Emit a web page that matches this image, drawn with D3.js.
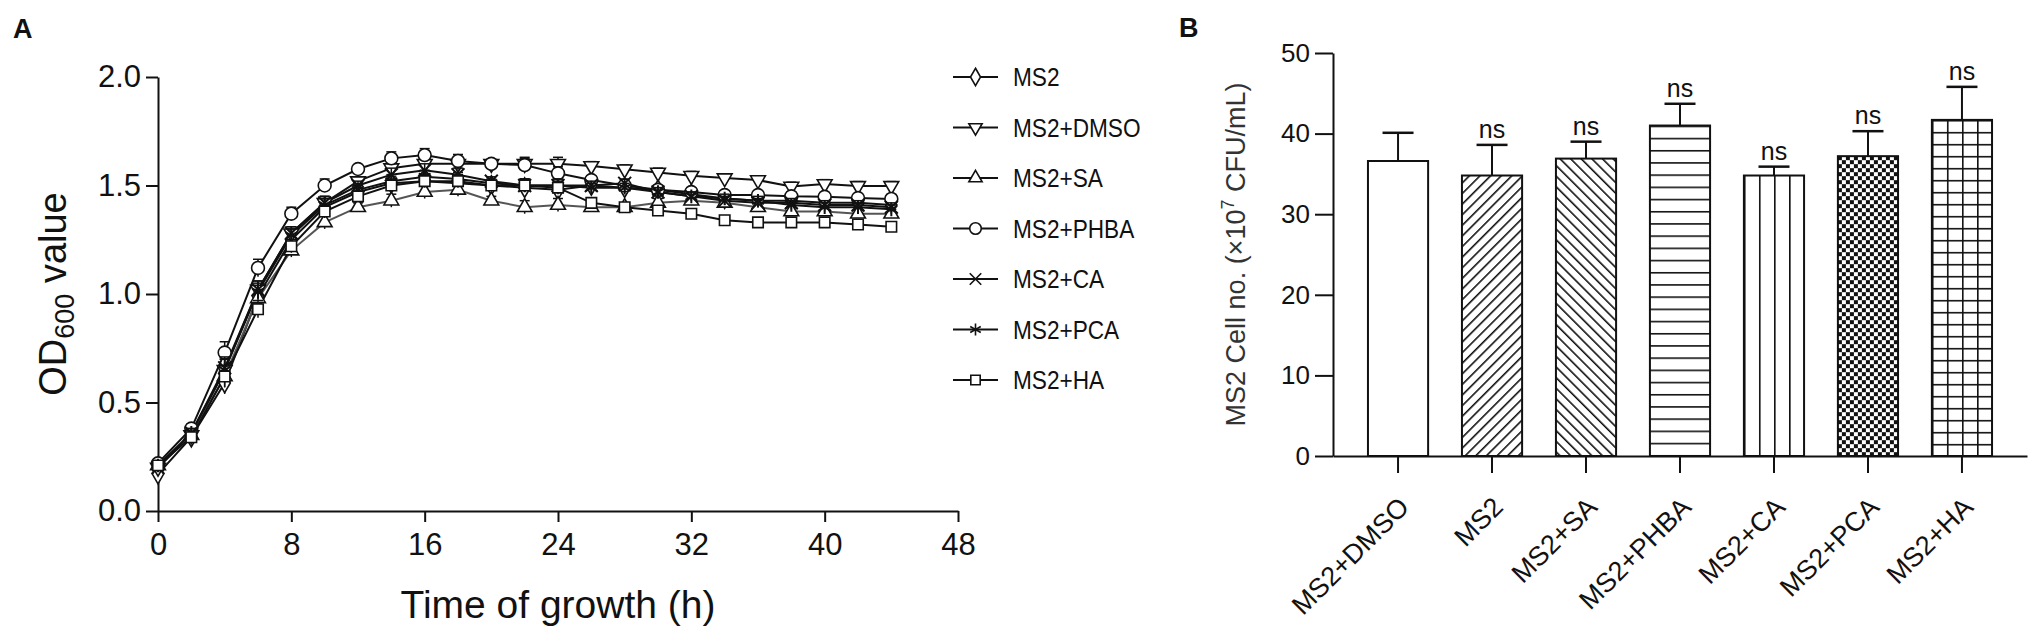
<!DOCTYPE html>
<html>
<head>
<meta charset="utf-8">
<script src="https://cdn.jsdelivr.net/npm/d3@7"></script>
<style>
  body { margin: 0; background: #fff; }
  svg text { font-family: "Liberation Sans", Arial, sans-serif; fill: #111; }
  .domain, .tick line { stroke: #111; stroke-width: 2; }
</style>
</head>
<body>
<div id="container"></div>
<script>
// panel A: growth curves
const hours = [0, 2, 4, 6, 8, 10, 12, 14, 16, 18, 20, 22, 24, 26, 28, 30, 32, 34, 36, 38, 40, 42, 44]
const seriesNames = ['MS2', 'MS2+DMSO', 'MS2+SA', 'MS2+PHBA', 'MS2+CA', 'MS2+PCA', 'MS2+HA']
const odMS2 = [0.17, 0.34, 0.59, 0.99, 1.25, 1.40, 1.47, 1.51, 1.52, 1.51, 1.50, 1.49, 1.48, 1.50, 1.49, 1.48, 1.46, 1.44, 1.43, 1.43, 1.42, 1.42, 1.41]
const odDMSO = [0.20, 0.35, 0.65, 1.02, 1.28, 1.42, 1.52, 1.58, 1.60, 1.60, 1.60, 1.60, 1.60, 1.59, 1.575, 1.56, 1.545, 1.534, 1.525, 1.495, 1.507, 1.498, 1.498]
const odSA = [0.21, 0.35, 0.62, 0.98, 1.20, 1.33, 1.40, 1.43, 1.47, 1.48, 1.43, 1.40, 1.41, 1.40, 1.40, 1.42, 1.43, 1.42, 1.40, 1.38, 1.38, 1.37, 1.37]
const odPHBA = [0.22, 0.38, 0.73, 1.12, 1.37, 1.50, 1.576, 1.625, 1.64, 1.613, 1.60, 1.594, 1.556, 1.525, 1.50, 1.48, 1.47, 1.456, 1.456, 1.45, 1.448, 1.442, 1.438]
const odCA = [0.20, 0.36, 0.66, 1.02, 1.28, 1.42, 1.50, 1.55, 1.57, 1.55, 1.52, 1.50, 1.50, 1.50, 1.51, 1.47, 1.45, 1.43, 1.42, 1.42, 1.41, 1.41, 1.40]
const odPCA = [0.21, 0.36, 0.65, 1.01, 1.27, 1.41, 1.48, 1.52, 1.54, 1.53, 1.51, 1.50, 1.50, 1.49, 1.49, 1.47, 1.45, 1.44, 1.43, 1.41, 1.40, 1.40, 1.39]
const odHA = [0.21, 0.34, 0.62, 0.93, 1.22, 1.38, 1.45, 1.50, 1.52, 1.52, 1.50, 1.50, 1.49, 1.42, 1.40, 1.385, 1.37, 1.34, 1.33, 1.33, 1.33, 1.32, 1.31]
const odError = [0.02, 0.02, 0.05, 0.04, 0.03, 0.03, 0.02, 0.03, 0.03, 0.03, 0.02, 0.03, 0.03, 0.02, 0.02, 0.02, 0.02, 0.02, 0.02, 0.02, 0.02, 0.02, 0.02]
const xTicksA = [0, 8, 16, 24, 32, 40, 48]
const yTicksA = [0, 0.5, 1.0, 1.5, 2.0]

// panel B: cell numbers
const groupsB = ['MS2+DMSO', 'MS2', 'MS2+SA', 'MS2+PHBA', 'MS2+CA', 'MS2+PCA', 'MS2+HA']
const cellCounts = [36.6, 34.8, 36.9, 41.0, 34.8, 37.2, 41.7]
const cellErrors = [3.5, 3.8, 2.1, 2.7, 1.1, 3.1, 4.1]
const significance = ['', 'ns', 'ns', 'ns', 'ns', 'ns', 'ns']
const yTicksB = [0, 10, 20, 30, 40, 50]

const w = 2033
const h = 637

const series = [odMS2, odDMSO, odSA, odPHBA, odCA, odPCA, odHA]
  .map((vals, i) => ({ name: seriesNames[i], values: vals.map((v, j) => ({ t: hours[j], v: v, e: odError[j] })) }))

const svg = d3.select('#container')
  .append('svg')
  .attr('width', w)
  .attr('height', h)

const defs = svg.append('defs')

// ---------- panel A ----------
const xA = d3.scaleLinear([0, 48], [158, 958])
const yA = d3.scaleLinear([0, 2], [511, 77])

svg.append('text').text('A')
  .attr('x', 13).attr('y', 38)
  .attr('font-size', 27).attr('font-weight', 'bold')

svg.append('g')
  .attr('transform', `translate(0,${yA(0)})`)
  .call(d3.axisBottom(xA).tickValues(xTicksA).tickFormat(d3.format('d')).tickSize(11).tickSizeOuter(0).tickPadding(11))
  .call(g => g.selectAll('text').attr('font-size', 31))

svg.append('g')
  .attr('transform', `translate(${xA(0)},0)`)
  .call(d3.axisLeft(yA).tickValues(yTicksA).tickFormat(d3.format('.1f')).tickSize(12).tickSizeOuter(0).tickPadding(5))
  .call(g => g.selectAll('text').attr('font-size', 31))

svg.append('text')
  .attr('x', xA(24)).attr('y', 618)
  .attr('text-anchor', 'middle')
  .attr('font-size', 39)
  .text('Time of growth (h)')

const yTitleA = svg.append('text')
  .attr('transform', `translate(66,${yA(1)}) rotate(-90)`)
  .attr('text-anchor', 'middle')
  .attr('font-size', 38)
yTitleA.append('tspan').text('OD')
yTitleA.append('tspan').text('600').attr('font-size', 27).attr('dy', 8)
yTitleA.append('tspan').text(' value').attr('dy', -8)

const markerType = {
  'MS2': d3.symbolDiamond,
  'MS2+DMSO': d3.symbolTriangle,
  'MS2+SA': d3.symbolTriangle,
  'MS2+PHBA': d3.symbolCircle,
  'MS2+CA': d3.symbolX,
  'MS2+PCA': d3.symbolAsterisk,
  'MS2+HA': d3.symbolSquare
}
const markerSize = { 'MS2': 110, 'MS2+DMSO': 95, 'MS2+SA': 95, 'MS2+PHBA': 130, 'MS2+CA': 110, 'MS2+PCA': 130, 'MS2+HA': 110 }
const markerRotate = name => name === 'MS2+DMSO' ? 180 : 0
const isOpen = name => name !== 'MS2+CA' && name !== 'MS2+PCA'

const line = d3.line().x(d => xA(d.t)).y(d => yA(d.v))

const plotA = svg.append('g')

plotA.selectAll('path.series')
  .data(series)
  .enter()
  .append('path')
  .attr('class', 'series')
  .attr('d', d => line(d.values))
  .attr('fill', 'none')
  .attr('stroke', (d, i) => i === 2 ? '#555' : '#111')
  .attr('stroke-width', 2)

series.forEach(s => {
  const g = plotA.append('g')
  g.selectAll('line.err')
    .data(s.values)
    .enter()
    .append('line')
    .attr('x1', d => xA(d.t)).attr('x2', d => xA(d.t))
    .attr('y1', d => yA(d.v - d.e)).attr('y2', d => yA(d.v + d.e))
    .attr('stroke', '#111').attr('stroke-width', 1.5)
  g.selectAll('line.cap')
    .data(s.values)
    .enter()
    .append('line')
    .attr('x1', d => xA(d.t) - 5).attr('x2', d => xA(d.t) + 5)
    .attr('y1', d => yA(d.v + d.e)).attr('y2', d => yA(d.v + d.e))
    .attr('stroke', '#111').attr('stroke-width', 1.5)
  g.selectAll('path.marker')
    .data(s.values)
    .enter()
    .append('path')
    .attr('d', d3.symbol(markerType[s.name], markerSize[s.name]))
    .attr('transform', d => `translate(${xA(d.t)},${yA(d.v)}) rotate(${markerRotate(s.name)})`)
    .attr('fill', isOpen(s.name) ? '#fff' : 'none')
    .attr('stroke', '#111')
    .attr('stroke-width', isOpen(s.name) ? 1.6 : 2)
})

// legend
const legend = svg.append('g').attr('transform', 'translate(953,77)')
seriesNames.forEach((name, i) => {
  const row = legend.append('g').attr('transform', `translate(0,${i * 50.5})`)
  row.append('line').attr('x1', 0).attr('x2', 45).attr('stroke', '#111').attr('stroke-width', 2)
  row.append('path')
    .attr('d', d3.symbol(markerType[name], markerSize[name] * 0.8))
    .attr('transform', `translate(22.5,0) rotate(${markerRotate(name)})`)
    .attr('fill', isOpen(name) ? '#fff' : 'none')
    .attr('stroke', '#111')
    .attr('stroke-width', 1.6)
  row.append('text').text(name)
    .attr('transform', 'translate(60,0) scale(0.87,1)')
    .attr('dy', '0.36em')
    .attr('font-size', 26)
})

// ---------- panel B ----------
const xB = d3.scaleBand(groupsB, [1333, 2027]).paddingInner(0.36).paddingOuter(0.372)
const yB = d3.scaleLinear([0, 50], [456, 53])

svg.append('text').text('B')
  .attr('x', 1179).attr('y', 37)
  .attr('font-size', 27).attr('font-weight', 'bold')

const pat = (id, x, y, pw, ph, rot, draw) => {
  const p = defs.append('pattern')
    .attr('id', id)
    .attr('patternUnits', 'userSpaceOnUse')
    .attr('x', x).attr('y', y)
    .attr('width', pw).attr('height', ph)
  if (rot) p.attr('patternTransform', `rotate(${rot})`)
  p.append('rect').attr('width', pw).attr('height', ph).attr('fill', '#fff')
  draw(p)
  return `url(#${id})`
}
const vline = (p, x, ph, sw) => p.append('line').attr('x1', x).attr('x2', x).attr('y1', 0).attr('y2', ph).attr('stroke', '#111').attr('stroke-width', sw)
const hline = (p, y, pw, sw) => p.append('line').attr('x1', 0).attr('x2', pw).attr('y1', y).attr('y2', y).attr('stroke', '#111').attr('stroke-width', sw)

const bw = xB.bandwidth()
const fills = groupsB.map((g, i) => {
  const x0 = xB(g)
  const y0 = yB(cellCounts[i])
  if (i === 0) return '#fff'
  if (i === 1) return pat('p1', 0, 0, 7.5, 7.5, 45, p => vline(p, 0.8, 7.5, 1.6))
  if (i === 2) return pat('p2', 0, 0, 7.5, 7.5, -45, p => vline(p, 0.8, 7.5, 1.6))
  if (i === 3) return pat('p3', x0, y0, 10, 12.2, 0, p => hline(p, 0, 10, 3.2))
  if (i === 4) return pat('p4', x0, y0, bw / 4, 10, 0, p => vline(p, 0, 10, 3.2))
  if (i === 5) return pat('p5', x0, y0, 8, 8, 0, p => {
    p.append('rect').attr('width', 4).attr('height', 4).attr('fill', '#111')
    p.append('rect').attr('x', 4).attr('y', 4).attr('width', 4).attr('height', 4).attr('fill', '#111')
  })
  return pat('p6', x0, y0, bw / 4, 12, 0, p => { vline(p, 0, 12, 3.2); hline(p, 0, bw / 4, 3.2) })
})

const barData = groupsB.map((g, i) => ({ g: g, v: cellCounts[i], e: cellErrors[i], s: significance[i], fill: fills[i] }))

svg.selectAll('rect.bar')
  .data(barData)
  .enter()
  .append('rect')
  .attr('class', 'bar')
  .attr('x', d => xB(d.g))
  .attr('y', d => yB(d.v))
  .attr('width', bw)
  .attr('height', d => yB(0) - yB(d.v))
  .attr('fill', d => d.fill)
  .attr('stroke', '#111')
  .attr('stroke-width', 2)

svg.selectAll('line.errB')
  .data(barData)
  .enter()
  .append('line')
  .attr('x1', d => xB(d.g) + bw / 2).attr('x2', d => xB(d.g) + bw / 2)
  .attr('y1', d => yB(d.v)).attr('y2', d => yB(d.v + d.e))
  .attr('stroke', '#111').attr('stroke-width', 2)

svg.selectAll('line.capB')
  .data(barData)
  .enter()
  .append('line')
  .attr('x1', d => xB(d.g) + bw / 2 - 15.5).attr('x2', d => xB(d.g) + bw / 2 + 15.5)
  .attr('y1', d => yB(d.v + d.e)).attr('y2', d => yB(d.v + d.e))
  .attr('stroke', '#111').attr('stroke-width', 2.5)

svg.selectAll('text.sig')
  .data(barData)
  .enter()
  .append('text')
  .attr('x', d => xB(d.g) + bw / 2)
  .attr('y', d => yB(d.v + d.e) - 7)
  .attr('text-anchor', 'middle')
  .attr('font-size', 25)
  .text(d => d.s)

svg.append('g')
  .attr('transform', `translate(0,${yB(0)})`)
  .call(d3.axisBottom(xB).tickSize(17).tickSizeOuter(0))
  .call(g => g.selectAll('text')
    .attr('font-size', 27)
    .attr('text-anchor', 'end')
    .attr('x', 0).attr('y', 0).attr('dy', '0.35em')
    .attr('transform', 'translate(6,46) rotate(-45)'))

svg.append('g')
  .attr('transform', `translate(${xB.range()[0]},0)`)
  .call(d3.axisLeft(yB).tickValues(yTicksB).tickSize(18).tickSizeOuter(0).tickPadding(5))
  .call(g => g.selectAll('text').attr('font-size', 26))

const yTitleB = svg.append('text')
  .attr('transform', `translate(1245,${(yB(0) + yB(50)) / 2}) rotate(-90)`)
  .attr('text-anchor', 'middle')
  .attr('font-size', 27)
  .style('fill', '#333')
yTitleB.append('tspan').text('MS2 Cell no. (×10')
yTitleB.append('tspan').text('7').attr('font-size', 18).attr('dy', -11)
yTitleB.append('tspan').text(' CFU/mL)').attr('dy', 11)
</script>
</body>
</html>
